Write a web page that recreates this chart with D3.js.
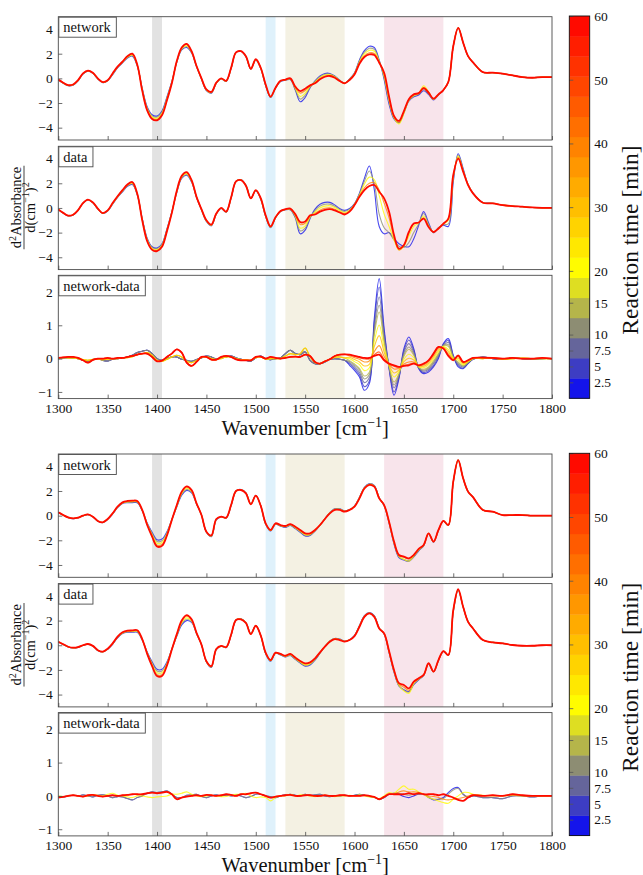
<!DOCTYPE html>
<html><head><meta charset="utf-8">
<script src="https://cdn.jsdelivr.net/npm/d3@7"></script>
<style>body{margin:0;background:#fff}svg{display:block}</style>
</head><body>
<svg id="c" width="643" height="875"></svg>
<script>
// ---------------- DATA ----------------
const wavenumber = [1300,1305,1310,1315,1320,1325,1330,1335,1340,1345,1350,1355,1360,1365,1370,1375,1380,
1385,1390,1395,1400,1405,1410,1415,1420,1425,1430,1435,1440,1445,1450,1455,1460,1465,
1470,1475,1480,1485,1490,1495,1500,1505,1510,1515,1520,1525,1530,1535,1540,1545,1550,
1555,1560,1565,1570,1575,1580,1585,1590,1595,1600,1605,1610,1615,1620,1625,1630,1635,
1640,1645,1650,1655,1660,1665,1670,1675,1680,1685,1690,1695,1700,1705,1710,1715,1720,
1730,1740,1750,1760,1770,1780,1790,1800];

const timesSpec = [2.5, 10, 20, 40, 60];
const timesDiff = [2.5, 5, 7.5, 10, 15, 20, 30, 40, 50, 60];
const xTicks = [1300,1350,1400,1450,1500,1550,1600,1650,1700,1750,1800];
const ySpecTicks = [-4,-2,0,2,4];
const yDiffTicks = [-1,0,1,2];
const cbTicks = [2.5,5,7.5,10,15,20,30,40,50,60];
const bandRanges = [[1395,1405],[1510,1520],[1530,1590],[1630,1690]];
const panelNames = ["network","data","network-data"];

// group 1, network
const net1_2p5 = [-0.15,-0.4,-0.6,-0.55,-0.2,0.35,0.58,0.4,-0.05,-0.35,-0.2,0.3,0.85,1.25,1.65,1.8,1.0,
-0.8,-2.3,-2.95,-3.05,-2.65,-1.5,-0.25,1.3,2.3,2.5,2.05,0.95,-0.05,-1.0,-1.2,-0.4,-0.05,
-0.25,0.8,2.1,2.2,1.75,0.75,1.5,0.8,-0.6,-1.55,-0.8,-0.25,-0.15,-0.1,-0.95,-1.9,-1.55,
-0.75,-0.2,0.2,0.4,0.4,0.2,-0.15,-0.38,-0.05,0.45,1.5,2.25,2.6,2.5,1.5,-0.1,-2.1,
-3.3,-3.6,-2.8,-1.85,-1.5,-1.35,-1.0,-1.3,-1.75,-1.35,-0.95,-0.3,2.6,4.1,2.9,1.8,1.3,
0.5,0.46,0.38,0.24,0.1,0.05,0.1,0.1];
const net1_10 = [-0.14,-0.39,-0.59,-0.54,-0.19,0.36,0.59,0.41,-0.04,-0.34,-0.19,0.33,0.88,1.28,1.69,1.85,1.03,
-0.85,-2.38,-3.04,-3.14,-2.74,-1.58,-0.29,1.33,2.35,2.58,2.09,0.96,-0.04,-0.98,-1.18,-0.39,-0.04,
-0.24,0.81,2.1,2.2,1.76,0.76,1.51,0.82,-0.58,-1.53,-0.79,-0.24,-0.14,-0.08,-0.88,-1.68,-1.37,
-0.71,-0.25,0.13,0.33,0.35,0.16,-0.17,-0.39,-0.07,0.42,1.42,2.12,2.44,2.35,1.44,0.04,-1.95,
-3.25,-3.6,-2.8,-1.82,-1.45,-1.3,-0.9,-1.26,-1.72,-1.34,-0.95,-0.3,2.6,4.1,2.9,1.8,1.3,
0.5,0.46,0.38,0.24,0.1,0.05,0.1,0.1];
const net1_20 = [-0.12,-0.38,-0.58,-0.52,-0.18,0.38,0.6,0.42,-0.02,-0.32,-0.18,0.35,0.9,1.3,1.72,1.9,1.05,
-0.9,-2.45,-3.13,-3.23,-2.83,-1.65,-0.33,1.35,2.4,2.65,2.13,0.98,-0.03,-0.95,-1.15,-0.38,-0.03,
-0.22,0.82,2.1,2.2,1.78,0.77,1.52,0.83,-0.55,-1.51,-0.78,-0.22,-0.12,-0.05,-0.81,-1.47,-1.2,
-0.66,-0.3,0.06,0.27,0.3,0.13,-0.19,-0.39,-0.09,0.39,1.35,1.99,2.27,2.2,1.39,0.18,-1.79,
-3.2,-3.7,-2.85,-1.8,-1.4,-1.22,-0.6,-1.1,-1.7,-1.32,-0.95,-0.3,2.6,4.1,2.9,1.8,1.3,
0.5,0.46,0.38,0.24,0.1,0.05,0.1,0.1];
const net1_40 = [-0.11,-0.36,-0.56,-0.51,-0.16,0.39,0.61,0.44,-0.01,-0.31,-0.16,0.38,0.93,1.33,1.77,1.96,1.08,
-0.96,-2.54,-3.23,-3.33,-2.93,-1.74,-0.37,1.38,2.46,2.74,2.17,0.99,-0.01,-0.92,-1.12,-0.36,-0.01,
-0.21,0.84,2.1,2.2,1.79,0.77,1.54,0.85,-0.52,-1.49,-0.77,-0.21,-0.11,-0.02,-0.73,-1.2,-0.98,
-0.61,-0.36,-0.02,0.18,0.23,0.08,-0.21,-0.4,-0.11,0.35,1.25,1.83,2.07,2.01,1.32,0.35,-1.6,
-3.12,-3.55,-2.72,-1.74,-1.33,-1.2,-0.72,-1.12,-1.67,-1.31,-0.95,-0.3,2.6,4.1,2.9,1.8,1.3,
0.5,0.46,0.38,0.24,0.1,0.05,0.1,0.1];
const net1_60 = [-0.1,-0.35,-0.55,-0.5,-0.15,0.4,0.62,0.45,0.0,-0.3,-0.15,0.4,0.95,1.35,1.8,2.0,1.1,
-1.0,-2.6,-3.3,-3.4,-3.0,-1.8,-0.4,1.4,2.5,2.8,2.2,1.0,0.0,-0.9,-1.1,-0.35,0.0,
-0.2,0.85,2.1,2.2,1.8,0.78,1.55,0.86,-0.5,-1.48,-0.76,-0.2,-0.1,0.0,-0.67,-1.03,-0.84,
-0.57,-0.4,-0.08,0.13,0.19,0.05,-0.22,-0.4,-0.13,0.32,1.19,1.73,1.94,1.89,1.27,0.46,-1.48,
-3.05,-3.45,-2.65,-1.7,-1.3,-1.2,-0.8,-1.16,-1.65,-1.3,-0.95,-0.3,2.6,4.1,2.9,1.8,1.3,
0.5,0.46,0.38,0.24,0.1,0.05,0.1,0.1];

// group 1, data
const dat1_2p5 = [-0.15,-0.42,-0.65,-0.58,-0.2,0.38,0.65,0.42,-0.08,-0.45,-0.25,0.3,0.85,1.3,1.75,1.9,1.05,
-0.85,-2.45,-3.15,-3.25,-2.9,-1.7,-0.3,1.25,2.4,2.65,2.1,0.85,-0.15,-1.1,-1.45,-0.5,-0.05,
-0.35,0.8,2.15,2.3,1.85,0.8,1.4,0.7,-0.7,-1.6,-0.8,-0.3,-0.15,-0.15,-0.8,-2.1,-1.8,
-0.85,-0.1,0.3,0.45,0.45,0.25,-0.05,-0.2,-0.05,0.35,1.2,2.4,3.4,1.5,-1.5,-2.1,-2.0,
-2.5,-2.9,-3.1,-3.15,-2.5,-1.4,-0.3,-1.2,-2.0,-1.6,-1.4,-1.5,2.1,4.4,3.2,1.9,1.2,
0.45,0.38,0.24,0.15,0.1,0.04,0.01,0.0];
const dat1_10 = [-0.14,-0.42,-0.64,-0.57,-0.2,0.39,0.66,0.43,-0.07,-0.44,-0.24,0.33,0.88,1.34,1.79,1.95,1.08,
-0.89,-2.51,-3.21,-3.31,-2.96,-1.75,-0.33,1.29,2.45,2.71,2.14,0.86,-0.14,-1.08,-1.43,-0.49,-0.04,
-0.34,0.81,2.15,2.29,1.84,0.8,1.41,0.73,-0.68,-1.58,-0.79,-0.29,-0.14,-0.13,-0.73,-1.86,-1.63,
-0.79,-0.21,0.15,0.3,0.31,0.14,-0.13,-0.28,-0.11,0.32,1.13,2.16,3.0,2.0,-0.5,-1.6,-2.0,
-2.6,-3.1,-3.2,-2.8,-2.0,-1.3,-0.45,-1.3,-2.0,-1.62,-1.35,-1.3,2.3,4.3,3.1,1.9,1.2,
0.45,0.38,0.24,0.15,0.1,0.04,0.01,0.0];
const dat1_20 = [-0.13,-0.41,-0.63,-0.56,-0.19,0.39,0.67,0.44,-0.06,-0.43,-0.22,0.35,0.9,1.38,1.83,2.0,1.1,
-0.93,-2.58,-3.28,-3.38,-3.03,-1.8,-0.35,1.33,2.5,2.78,2.18,0.88,-0.13,-1.05,-1.4,-0.48,-0.03,
-0.33,0.83,2.15,2.28,1.83,0.79,1.43,0.75,-0.65,-1.55,-0.78,-0.28,-0.13,-0.1,-0.65,-1.63,-1.45,
-0.73,-0.32,0.0,0.15,0.18,0.03,-0.21,-0.37,-0.18,0.29,1.05,1.93,2.5,2.3,1.0,-0.5,-1.5,
-2.6,-3.4,-3.1,-2.3,-1.5,-1.2,-0.65,-1.45,-1.95,-1.65,-1.3,-1.0,2.5,4.2,3.05,1.88,1.19,
0.42,0.37,0.23,0.15,0.1,0.04,0.01,0.0];
const dat1_40 = [-0.12,-0.4,-0.62,-0.55,-0.18,0.4,0.67,0.44,-0.05,-0.42,-0.21,0.38,0.93,1.42,1.87,2.06,1.13,
-0.97,-2.65,-3.35,-3.45,-3.1,-1.86,-0.38,1.37,2.56,2.85,2.22,0.89,-0.11,-1.02,-1.37,-0.46,-0.01,
-0.31,0.84,2.15,2.26,1.81,0.78,1.44,0.78,-0.62,-1.52,-0.76,-0.26,-0.11,-0.07,-0.56,-1.34,-1.24,
-0.65,-0.44,-0.18,-0.03,0.01,-0.11,-0.31,-0.46,-0.25,0.25,0.96,1.64,2.0,2.05,1.45,0.4,-0.8,
-2.4,-3.4,-3.05,-2.05,-1.3,-1.18,-0.8,-1.5,-1.95,-1.67,-1.27,-0.9,2.6,4.1,3.0,1.87,1.18,
0.42,0.37,0.23,0.15,0.1,0.04,0.01,0.0];
const dat1_60 = [-0.12,-0.4,-0.62,-0.55,-0.18,0.4,0.68,0.45,-0.05,-0.42,-0.2,0.4,0.95,1.45,1.9,2.1,1.15,
-1.0,-2.7,-3.4,-3.5,-3.15,-1.9,-0.4,1.4,2.6,2.9,2.25,0.9,-0.1,-1.0,-1.35,-0.45,0.0,
-0.3,0.85,2.15,2.25,1.8,0.78,1.45,0.8,-0.6,-1.5,-0.75,-0.25,-0.1,-0.05,-0.5,-1.15,-1.1,
-0.6,-0.53,-0.3,-0.15,-0.1,-0.2,-0.37,-0.53,-0.3,0.23,0.9,1.45,1.78,1.86,1.32,0.78,-0.3,
-2.2,-3.3,-3.0,-1.95,-1.26,-1.18,-0.86,-1.54,-1.95,-1.67,-1.27,-0.86,2.68,4.0,2.95,1.86,1.18,
0.42,0.37,0.23,0.15,0.1,0.04,0.01,0.0];

// group 1, network-data: shared stretches 1300-1590, per-time stretch 1595-1720, tails 1730-1800
const dif1Low_early = [0.0,0.02,0.03,0.02,0.0,-0.05,-0.08,-0.03,0.0,-0.05,-0.07,-0.02,0.0,0.02,0.05,0.1,0.18,
0.22,0.25,0.15,0.0,-0.05,0.0,0.05,0.05,-0.02,-0.05,-0.08,-0.03,0.02,0.08,0.05,-0.02,0.02,
0.05,0.08,0.02,-0.02,-0.05,-0.08,0.02,0.08,0.0,-0.03,0.0,0.02,0.15,0.25,0.15,0.12,0.2,
-0.05,-0.15,-0.15,-0.1,-0.02,0.0,-0.02,-0.05];
const dif1Low_mid = [0.01,0.03,0.02,0.02,0.0,-0.03,-0.05,-0.02,-0.02,-0.03,-0.02,0.0,0.0,0.02,0.03,0.06,0.12,
0.15,0.18,0.1,-0.05,-0.08,-0.02,0.05,0.1,0.05,-0.08,-0.12,-0.06,0.03,0.06,0.0,-0.03,0.0,
0.05,0.05,0.0,-0.03,-0.03,-0.05,0.03,0.05,-0.02,0.0,0.0,0.0,0.08,0.15,0.12,0.15,0.32,
0.05,-0.12,-0.15,-0.08,-0.02,0.04,0.05,0.02];
const dif1Low_late = [0.02,0.04,0.05,0.05,0.02,-0.05,-0.12,-0.04,0.0,0.0,0.02,0.0,0.02,0.02,0.05,0.08,0.12,
0.15,0.15,0.05,-0.08,-0.06,0.05,0.15,0.28,0.18,-0.12,-0.22,-0.1,0.05,0.05,-0.03,-0.03,0.05,
0.08,0.05,-0.02,-0.05,-0.05,-0.05,0.05,0.06,0.0,0.05,0.02,0.0,0.02,0.05,0.06,0.05,0.12,
0.08,-0.1,-0.15,-0.08,-0.02,0.08,0.12,0.13];
const dif1Tail_early = [0.05,0.0,-0.02,0.02,0.0,-0.02,0.0,0.0];
const dif1Tail_mid = [0.0,0.02,-0.02,0.0,0.02,0.0,0.0,0.0];
const dif1Tail_late = [0.03,0.02,0.0,0.02,0.0,0.0,0.02,0.0];
const dif1Amide_2p5 = [-0.2,-0.35,-0.55,-0.95,-0.75,1.2,2.4,0.9,-0.3,-1.1,-0.6,0.3,0.65,0.3,-0.3,-0.45,-0.4,-0.25,0.0,0.45,0.6,0.1,-0.25,-0.3,-0.15,-0.02];
const dif1Amide_5 = [-0.16,-0.3,-0.48,-0.84,-0.67,1.08,2.15,0.8,-0.28,-1.0,-0.56,0.24,0.56,0.25,-0.29,-0.42,-0.36,-0.21,0.04,0.43,0.54,0.08,-0.21,-0.28,-0.14,-0.02];
const dif1Amide_7p5 = [-0.12,-0.25,-0.41,-0.72,-0.57,0.93,1.85,0.67,-0.26,-0.88,-0.52,0.18,0.45,0.19,-0.28,-0.38,-0.32,-0.15,0.08,0.41,0.48,0.06,-0.17,-0.25,-0.13,-0.01];
const dif1Amide_10 = [-0.09,-0.2,-0.34,-0.61,-0.48,0.81,1.6,0.57,-0.25,-0.79,-0.48,0.12,0.35,0.14,-0.27,-0.35,-0.28,-0.11,0.12,0.4,0.42,0.05,-0.13,-0.23,-0.12,-0.01];
const dif1Amide_15 = [-0.06,-0.16,-0.29,-0.52,-0.41,0.71,1.4,0.48,-0.23,-0.7,-0.45,0.07,0.28,0.1,-0.26,-0.32,-0.25,-0.07,0.15,0.38,0.37,0.03,-0.1,-0.21,-0.11,0.0];
const dif1Amide_20 = [0.0,-0.09,-0.18,-0.36,-0.28,0.52,1.01,0.32,-0.21,-0.55,-0.39,-0.02,0.13,0.03,-0.24,-0.27,-0.19,-0.01,0.21,0.36,0.28,0.01,-0.04,-0.18,-0.09,0.0];
const dif1Amide_30 = [0.04,-0.03,-0.1,-0.22,-0.17,0.36,0.69,0.19,-0.19,-0.43,-0.34,-0.09,0.01,-0.04,-0.23,-0.23,-0.14,0.05,0.26,0.34,0.21,-0.01,0.01,-0.15,-0.08,0.01];
const dif1Amide_40 = [0.08,0.03,-0.02,-0.1,-0.07,0.21,0.39,0.06,-0.17,-0.31,-0.29,-0.16,-0.1,-0.1,-0.21,-0.19,-0.09,0.1,0.31,0.32,0.14,-0.03,0.06,-0.12,-0.06,0.02];
const dif1Amide_50 = [0.11,0.07,0.03,-0.01,-0.01,0.12,0.2,-0.02,-0.16,-0.23,-0.26,-0.2,-0.17,-0.13,-0.2,-0.16,-0.06,0.14,0.34,0.31,0.1,-0.04,0.09,-0.11,-0.05,0.02];
const dif1Amide_60 = [0.12,0.08,0.05,0.02,0.02,0.08,0.12,-0.05,-0.15,-0.2,-0.25,-0.22,-0.2,-0.15,-0.2,-0.15,-0.05,0.15,0.35,0.3,0.08,-0.05,0.1,-0.1,-0.05,0.02];

// group 2, network
const net2_2p5 = [0.25,0.03,-0.16,-0.24,-0.18,-0.02,0.08,-0.1,-0.45,-0.56,-0.3,0.12,0.65,0.98,1.05,1.06,1.05,
0.4,-0.6,-1.35,-1.95,-1.9,-1.3,-0.3,0.7,1.65,2.05,1.85,0.95,0.05,-1.35,-1.7,-0.35,-0.1,
-0.2,0.8,2.0,2.12,1.85,0.95,1.65,0.8,-0.7,-1.25,-0.7,-0.85,-0.95,-0.8,-1.05,-1.35,-1.65,
-1.6,-1.25,-0.8,-0.25,0.25,0.55,0.55,0.4,0.5,0.8,1.5,2.3,2.6,2.45,1.45,0.8,-0.6,
-2.3,-3.4,-3.6,-3.7,-3.35,-2.85,-2.45,-1.45,-2.15,-1.2,-0.45,-0.78,2.7,4.5,3.03,1.95,1.5,
0.46,0.32,0.05,0.05,0.05,0.0,0.0,0.0];
const net2_10 = [0.25,0.04,-0.16,-0.24,-0.18,-0.02,0.08,-0.1,-0.45,-0.56,-0.29,0.14,0.67,1.01,1.09,1.1,1.09,
0.42,-0.64,-1.44,-2.09,-2.04,-1.38,-0.31,0.74,1.73,2.13,1.91,0.96,0.05,-1.34,-1.68,-0.33,-0.1,
-0.19,0.82,2.0,2.11,1.84,0.94,1.64,0.8,-0.68,-1.23,-0.68,-0.83,-0.92,-0.77,-1.01,-1.3,-1.6,
-1.56,-1.23,-0.79,-0.26,0.24,0.53,0.53,0.38,0.49,0.78,1.48,2.28,2.57,2.43,1.44,0.82,-0.57,
-2.25,-3.35,-3.55,-3.65,-3.3,-2.81,-2.43,-1.45,-2.14,-1.19,-0.45,-0.78,2.72,4.5,3.03,1.95,1.5,
0.46,0.32,0.05,0.05,0.05,0.0,0.0,0.0];
const net2_20 = [0.26,0.04,-0.15,-0.23,-0.17,-0.01,0.09,-0.09,-0.44,-0.55,-0.28,0.16,0.69,1.03,1.12,1.14,1.12,
0.43,-0.68,-1.53,-2.23,-2.18,-1.46,-0.33,0.78,1.8,2.22,1.97,0.98,0.05,-1.33,-1.65,-0.31,-0.09,
-0.18,0.83,2.0,2.1,1.83,0.94,1.64,0.81,-0.66,-1.21,-0.66,-0.81,-0.9,-0.74,-0.98,-1.26,-1.54,
-1.52,-1.21,-0.78,-0.26,0.22,0.51,0.51,0.36,0.48,0.77,1.45,2.25,2.55,2.4,1.43,0.83,-0.55,
-2.2,-3.3,-3.55,-3.7,-3.3,-2.78,-2.42,-1.44,-2.12,-1.18,-0.44,-0.77,2.73,4.5,3.03,1.95,1.5,
0.46,0.32,0.05,0.05,0.05,0.0,0.0,0.0];
const net2_40 = [0.27,0.05,-0.14,-0.22,-0.16,0.0,0.1,-0.08,-0.43,-0.54,-0.28,0.18,0.71,1.06,1.16,1.19,1.16,
0.45,-0.73,-1.63,-2.39,-2.34,-1.56,-0.34,0.83,1.89,2.31,2.03,0.99,0.05,-1.31,-1.62,-0.29,-0.08,
-0.17,0.85,2.0,2.09,1.82,0.93,1.63,0.81,-0.64,-1.18,-0.64,-0.78,-0.86,-0.7,-0.93,-1.2,-1.47,
-1.46,-1.18,-0.77,-0.27,0.2,0.48,0.48,0.34,0.47,0.74,1.42,2.22,2.51,2.37,1.41,0.85,-0.51,
-2.14,-3.23,-3.38,-3.52,-3.22,-2.73,-2.39,-1.43,-2.11,-1.17,-0.43,-0.76,2.75,4.5,3.03,1.95,1.5,
0.46,0.32,0.05,0.05,0.05,0.0,0.0,0.0];
const net2_60 = [0.27,0.05,-0.14,-0.22,-0.16,0.0,0.1,-0.08,-0.43,-0.54,-0.27,0.19,0.73,1.08,1.19,1.22,1.19,
0.46,-0.76,-1.7,-2.5,-2.45,-1.62,-0.35,0.86,1.95,2.38,2.08,1.0,0.05,-1.3,-1.6,-0.27,-0.08,
-0.16,0.86,2.0,2.08,1.81,0.92,1.62,0.81,-0.62,-1.16,-0.62,-0.76,-0.84,-0.68,-0.9,-1.16,-1.43,
-1.43,-1.16,-0.76,-0.27,0.19,0.46,0.46,0.32,0.46,0.73,1.4,2.2,2.49,2.35,1.4,0.86,-0.49,
-2.1,-3.19,-3.32,-3.46,-3.19,-2.7,-2.38,-1.43,-2.1,-1.16,-0.43,-0.76,2.76,4.5,3.03,1.95,1.5,
0.46,0.32,0.05,0.05,0.05,0.0,0.0,0.0];

// group 2, data
const dat2_2p5 = [0.27,0.06,-0.14,-0.22,-0.17,-0.02,0.08,-0.07,-0.42,-0.55,-0.32,0.08,0.6,0.95,1.05,1.05,1.05,
0.42,-0.55,-1.35,-1.95,-1.95,-1.35,-0.3,0.72,1.65,2.0,1.85,0.95,0.05,-1.35,-1.8,-0.35,-0.08,
-0.2,0.8,2.05,2.15,1.85,0.95,1.6,0.78,-0.7,-1.3,-0.65,-0.78,-0.95,-0.82,-1.15,-1.45,-1.7,
-1.6,-1.2,-0.65,-0.1,0.35,0.55,0.5,0.35,0.45,0.8,1.6,2.4,2.65,2.4,1.4,0.9,-0.6,
-2.2,-3.3,-3.6,-3.75,-3.2,-2.8,-2.45,-1.5,-2.15,-1.25,-0.5,-0.8,2.7,4.45,3.1,1.9,1.36,
0.42,0.23,0.15,0.02,-0.04,-0.04,0.0,0.0];
const dat2_10 = [0.27,0.07,-0.14,-0.22,-0.17,-0.02,0.08,-0.07,-0.42,-0.54,-0.31,0.1,0.63,0.98,1.08,1.09,1.09,
0.44,-0.59,-1.44,-2.09,-2.09,-1.43,-0.31,0.77,1.74,2.11,1.91,0.96,0.05,-1.34,-1.78,-0.34,-0.07,
-0.19,0.81,2.05,2.14,1.84,0.94,1.6,0.79,-0.68,-1.28,-0.64,-0.76,-0.93,-0.79,-1.11,-1.41,-1.64,
-1.55,-1.17,-0.63,-0.1,0.34,0.54,0.48,0.34,0.44,0.79,1.58,2.38,2.63,2.38,1.39,0.92,-0.57,
-2.15,-3.3,-3.65,-3.8,-3.15,-2.77,-2.44,-1.49,-2.15,-1.24,-0.5,-0.8,2.74,4.47,3.1,1.9,1.36,
0.42,0.23,0.15,0.02,-0.04,-0.04,0.0,0.0];
const dat2_20 = [0.28,0.07,-0.13,-0.21,-0.16,-0.01,0.09,-0.06,-0.41,-0.54,-0.3,0.12,0.65,1.0,1.12,1.13,1.14,
0.46,-0.63,-1.53,-2.23,-2.23,-1.5,-0.33,0.81,1.83,2.22,1.98,0.98,0.05,-1.33,-1.75,-0.33,-0.07,
-0.18,0.83,2.05,2.13,1.83,0.93,1.59,0.79,-0.65,-1.25,-0.63,-0.74,-0.9,-0.76,-1.08,-1.37,-1.59,
-1.5,-1.13,-0.62,-0.11,0.32,0.53,0.46,0.32,0.44,0.77,1.55,2.35,2.62,2.35,1.38,0.93,-0.54,
-2.1,-3.25,-3.7,-3.9,-3.1,-2.74,-2.43,-1.48,-2.14,-1.22,-0.49,-0.8,2.77,4.5,3.11,1.9,1.36,
0.42,0.23,0.15,0.02,-0.04,-0.04,0.0,0.0];
const dat2_40 = [0.29,0.08,-0.12,-0.2,-0.15,0.0,0.1,-0.05,-0.4,-0.53,-0.29,0.14,0.68,1.03,1.15,1.17,1.19,
0.48,-0.67,-1.63,-2.39,-2.39,-1.59,-0.34,0.86,1.93,2.35,2.05,0.99,0.05,-1.31,-1.72,-0.31,-0.06,
-0.16,0.84,2.05,2.11,1.81,0.91,1.58,0.8,-0.62,-1.22,-0.61,-0.72,-0.87,-0.72,-1.03,-1.31,-1.52,
-1.43,-1.09,-0.59,-0.12,0.3,0.51,0.44,0.3,0.43,0.75,1.52,2.32,2.59,2.32,1.37,0.95,-0.5,
-2.05,-3.15,-3.4,-3.65,-3.0,-2.7,-2.41,-1.47,-2.14,-1.21,-0.48,-0.79,2.81,4.52,3.12,1.9,1.36,
0.42,0.23,0.15,0.02,-0.04,-0.04,0.0,0.0];
const dat2_60 = [0.29,0.08,-0.12,-0.2,-0.15,0.0,0.1,-0.05,-0.4,-0.52,-0.28,0.15,0.7,1.05,1.18,1.2,1.22,
0.5,-0.7,-1.7,-2.5,-2.5,-1.65,-0.35,0.9,2.0,2.44,2.1,1.0,0.05,-1.3,-1.7,-0.3,-0.05,
-0.15,0.85,2.05,2.1,1.8,0.9,1.58,0.8,-0.6,-1.2,-0.6,-0.7,-0.85,-0.7,-1.0,-1.28,-1.47,
-1.39,-1.06,-0.58,-0.12,0.29,0.5,0.42,0.29,0.42,0.74,1.5,2.3,2.58,2.3,1.36,0.96,-0.47,
-2.0,-3.08,-3.22,-3.5,-2.95,-2.68,-2.4,-1.46,-2.14,-1.2,-0.47,-0.79,2.84,4.54,3.12,1.9,1.36,
0.42,0.23,0.15,0.02,-0.04,-0.04,0.0,0.0];

// group 2, network-data: shared stretches 1300-1635, per-time stretch 1640-1720, tails
const dif2Low_early = [-0.03,-0.03,0.0,0.02,0.0,0.03,0.0,-0.03,0.02,0.03,0.0,-0.05,-0.02,-0.03,-0.08,-0.12,-0.05,
0.0,0.08,0.12,0.1,0.12,0.15,0.05,-0.05,-0.05,0.02,0.03,0.05,-0.02,-0.05,0.0,0.03,0.0,
0.02,0.0,0.03,0.0,-0.05,-0.02,0.05,0.05,0.0,-0.02,-0.05,0.0,0.03,0.05,0.02,0.0,0.05,
0.02,0.03,0.05,0.0,-0.02,0.0,0.0,0.02,0.0,0.02,0.05,0.02,-0.02,-0.05,-0.1,-0.05,0.05];
const dif2Low_mid = [0.0,-0.02,0.0,0.02,0.0,-0.02,0.0,0.03,0.02,0.0,0.05,0.08,0.02,0.0,-0.03,-0.05,0.0,
0.0,-0.03,-0.05,-0.03,-0.02,0.0,0.05,0.05,0.08,0.12,0.05,0.0,-0.02,0.0,0.02,0.0,-0.02,
-0.02,0.02,0.05,0.05,0.08,0.0,-0.05,-0.03,-0.05,-0.15,-0.05,0.0,0.0,0.05,0.0,0.03,0.02,
0.0,-0.02,0.0,0.02,0.0,-0.02,0.0,0.0,0.02,0.0,0.03,0.0,-0.03,-0.05,-0.08,0.0,0.1];
const dif2Low_late = [-0.05,-0.03,0.0,0.02,0.0,-0.02,0.02,0.03,0.0,-0.02,0.0,0.02,0.0,0.02,0.03,0.05,0.05,
0.05,0.08,0.1,0.08,0.1,0.12,0.05,-0.1,-0.05,-0.02,0.0,0.02,0.0,0.03,0.02,0.0,0.02,
0.05,0.03,0.0,0.05,0.05,0.08,0.1,0.05,0.0,-0.05,-0.02,0.0,0.02,0.03,0.0,0.0,0.02,
0.02,0.0,0.0,0.02,0.0,0.0,0.02,0.02,0.0,0.0,0.0,0.02,0.0,-0.03,-0.1,-0.03,0.05];
const dif2Tail_early = [-0.05,-0.05,-0.08,0.0,0.0,-0.03,0.0,0.0];
const dif2Tail_mid = [0.02,0.0,0.0,0.02,0.0,0.0,0.0,0.0];
const dif2Tail_late = [0.0,0.02,0.0,0.05,0.02,0.0,0.0,0.0];
const dif2Amide_2p5 = [0.08,0.05,-0.02,-0.05,0.0,0.05,0.05,-0.05,-0.12,-0.1,-0.05,0.1,0.22,0.25,0.05,-0.05,0.0];
const dif2Amide_10 = [0.08,0.08,0.05,0.02,0.05,0.05,0.05,-0.03,-0.1,-0.1,-0.08,0.05,0.18,0.22,0.05,-0.03,0.0];
const dif2Amide_20 = [0.08,0.2,0.3,0.2,0.2,0.12,0.05,-0.05,-0.1,-0.15,-0.2,-0.22,-0.1,0.0,0.1,0.1,0.05];
const dif2Amide_40 = [0.05,0.12,0.15,0.12,0.12,0.1,0.05,0.0,-0.02,-0.05,-0.1,-0.12,-0.1,-0.08,-0.05,0.0,0.03];
const dif2Amide_60 = [0.05,0.05,0.05,0.08,0.05,0.08,0.05,0.05,0.05,0.02,0.05,0.0,-0.05,-0.12,-0.15,-0.05,0.02];

// ---------------- SERIES TABLES ----------------
const dif1 = [
  [2.5, [...dif1Low_early, ...dif1Amide_2p5, ...dif1Tail_early]],
  [5,   [...dif1Low_early, ...dif1Amide_5, ...dif1Tail_early]],
  [7.5, [...dif1Low_early, ...dif1Amide_7p5, ...dif1Tail_early]],
  [10,  [...dif1Low_early, ...dif1Amide_10, ...dif1Tail_early]],
  [15,  [...dif1Low_mid, ...dif1Amide_15, ...dif1Tail_mid]],
  [20,  [...dif1Low_mid, ...dif1Amide_20, ...dif1Tail_mid]],
  [30,  [...dif1Low_mid, ...dif1Amide_30, ...dif1Tail_mid]],
  [40,  [...dif1Low_late, ...dif1Amide_40, ...dif1Tail_late]],
  [50,  [...dif1Low_late, ...dif1Amide_50, ...dif1Tail_late]],
  [60,  [...dif1Low_late, ...dif1Amide_60, ...dif1Tail_late]]
];
const dif2 = [
  [2.5, [...dif2Low_early, ...dif2Amide_2p5, ...dif2Tail_early]],
  [10,  [...dif2Low_early, ...dif2Amide_10, ...dif2Tail_early]],
  [20,  [...dif2Low_mid, ...dif2Amide_20, ...dif2Tail_mid]],
  [40,  [...dif2Low_late, ...dif2Amide_40, ...dif2Tail_late]],
  [60,  [...dif2Low_late, ...dif2Amide_60, ...dif2Tail_late]]
];
const spec = (a) => timesSpec.map((t, i) => [t, a[i]]);

// ---------------- LAYOUT / STYLE ----------------
const FONT = '"Liberation Serif","Times New Roman",serif';
const X0 = 58.3, X1 = 552;
const PH = 123.3;
const groupOffset = [0, 437.3];
const panelTops = [16.7, 146.3, 275.3];
const bandColors = ['#e2e2e2', '#dff1fb', '#f4f1e3', '#f8e4eb'];
const AX = '#4a4a4a';

const svg = d3.select('#c');
const defs = svg.append('defs');
const x = d3.scaleLinear().domain([1300, 1800]).range([X0, X1]);

const cmap = d3.scaleLinear().domain([0, 10, 20, 60])
  .range(['#0000ff', '#808080', '#ffff00', '#ff0000']).interpolate(d3.interpolateRgb);
const NSEG = 19;
const segIndex = t => Math.min(NSEG - 1, Math.floor(t / 60 * NSEG));
const segColor = t => cmap((segIndex(t) + 0.5) * 60 / NSEG);
const fmtNum = d => (d < 0 ? '\u2212' + Math.abs(d) : String(d));

const groups = [
  [spec([net1_2p5, net1_10, net1_20, net1_40, net1_60]),
   spec([dat1_2p5, dat1_10, dat1_20, dat1_40, dat1_60]), dif1],
  [spec([net2_2p5, net2_10, net2_20, net2_40, net2_60]),
   spec([dat2_2p5, dat2_10, dat2_20, dat2_40, dat2_60]), dif2]
];

let clipId = 0;
groups.forEach((gs, gi) => {
  const off = groupOffset[gi];
  gs.forEach((series, pi) => {
    const top = panelTops[pi] + off, bot = top + PH;
    const isDiff = pi === 2;
    const y = d3.scaleLinear().domain(isDiff ? [-1.2, 2.5] : [-5, 5]).range([bot, top]);
    const g = svg.append('g');
    bandRanges.forEach((b, i) => g.append('rect')
      .attr('x', x(b[0])).attr('y', top).attr('width', x(b[1]) - x(b[0])).attr('height', PH)
      .attr('fill', bandColors[i]));
    const cid = 'clip' + (clipId++);
    defs.append('clipPath').attr('id', cid).append('rect')
      .attr('x', X0).attr('y', top).attr('width', X1 - X0).attr('height', PH);
    const lg = g.append('g').attr('clip-path', `url(#${cid})`);
    const line = d3.line().x(d => x(d[0])).y(d => y(d[1])).curve(d3.curveCatmullRom.alpha(0.5));
    series.forEach(([t, vals]) => {
      const pts = wavenumber.map((w, i) => [w, vals[i]]).filter(d => d[1] !== undefined);
      lg.append('path').attr('d', line(pts)).attr('fill', 'none')
        .attr('stroke', segColor(t))
        .attr('stroke-width', t === 60 ? 1.8 : 1.1)
        .attr('stroke-opacity', t === 60 ? 1 : 0.78)
        .attr('stroke-linejoin', 'round');
    });
    // axes
    const ya = g.append('g').attr('transform', `translate(${X0},0)`)
      .call(d3.axisLeft(y).tickValues(isDiff ? yDiffTicks : ySpecTicks).tickSize(-4).tickPadding(5.6).tickFormat(fmtNum));
    const xa = g.append('g').attr('transform', `translate(0,${bot})`)
      .call(d3.axisBottom(x).tickValues(xTicks).tickSize(-4).tickPadding(4.9)
        .tickFormat(isDiff ? (d => String(d)) : () => ''));
    [ya, xa].forEach(a => {
      a.select('.domain').remove();
      a.selectAll('line').attr('stroke', AX).attr('stroke-width', 0.8);
      a.selectAll('text').attr('font-family', FONT).attr('font-size', 13.5).attr('fill', '#111');
    });
    // frame
    g.append('rect').attr('x', X0).attr('y', top).attr('width', X1 - X0).attr('height', PH)
      .attr('fill', 'none').attr('stroke', AX).attr('stroke-width', 0.9);
    // label box
    const box = g.append('rect').attr('x', X0 + 0.5).attr('y', top + 0.5).attr('height', 20)
      .attr('fill', '#fff').attr('stroke', AX).attr('stroke-width', 0.9);
    const lt = g.append('text').attr('x', X0 + 5).attr('y', top + 15.6)
      .attr('font-family', FONT).attr('font-size', 14.5).attr('fill', '#111').text(panelNames[pi]);
    box.attr('width', lt.node().getComputedTextLength() + 10);
    if (isDiff) {
      const t = g.append('text').attr('x', (X0 + X1) / 2).attr('y', bot + 36.5)
        .attr('text-anchor', 'middle').attr('font-family', FONT).attr('font-size', 20.5).attr('fill', '#111');
      t.append('tspan').text('Wavenumber [cm');
      t.append('tspan').attr('dy', -8).attr('font-size', 14).text('\u22121');
      t.append('tspan').attr('dy', 8).text(']');
    }
  });

  // y-axis fraction label
  const yc = 207.5 + off;
  const fl = svg.append('g').attr('transform', `translate(21,${yc}) rotate(-90)`)
    .attr('font-family', FONT).attr('font-size', 14.5).attr('fill', '#111');
  const num = fl.append('text').attr('text-anchor', 'middle');
  num.append('tspan').text('d');
  num.append('tspan').attr('dy', -5.5).attr('font-size', 10).text('2');
  num.append('tspan').attr('dy', 5.5).text('Absorbance');
  const den = fl.append('text').attr('text-anchor', 'middle').attr('y', 13.5);
  den.append('tspan').text('d(cm');
  den.append('tspan').attr('dy', -5.5).attr('font-size', 10).text('\u22121');
  den.append('tspan').attr('dy', 5.5).text(')');
  den.append('tspan').attr('dy', -5.5).attr('font-size', 10).text('2');
  const nw = num.node().getComputedTextLength();
  fl.append('line').attr('x1', -nw / 2 - 1).attr('x2', nw / 2 + 1).attr('y1', 3).attr('y2', 3)
    .attr('stroke', '#111').attr('stroke-width', 0.8);

  // colorbar
  const cbTop = 16 + off, cbBot = 398.3 + off, cbL = 569.3, cbR = 589.7;
  const cy = d3.scaleLinear().domain([0, 60]).range([cbBot, cbTop]);
  const cb = svg.append('g');
  d3.range(NSEG).forEach(i => {
    const v0 = i * 60 / NSEG, v1 = (i + 1) * 60 / NSEG;
    cb.append('rect').attr('x', cbL).attr('y', cy(v1)).attr('width', cbR - cbL)
      .attr('height', cy(v0) - cy(v1) + 0.4).attr('fill', cmap((v0 + v1) / 2));
  });
  const cl = cb.append('g').attr('transform', `translate(${cbL},0)`)
    .call(d3.axisLeft(cy).tickValues(cbTicks).tickSize(-4).tickFormat(''));
  const cr = cb.append('g').attr('transform', `translate(${cbR},0)`)
    .call(d3.axisRight(cy).tickValues(cbTicks).tickSize(0).tickPadding(4.5).tickFormat(d => String(d)));
  [cl, cr].forEach(a => {
    a.select('.domain').remove();
    a.selectAll('line').attr('stroke', '#555').attr('stroke-width', 0.8);
    a.selectAll('text').attr('font-family', FONT).attr('font-size', 13.5).attr('fill', '#111');
  });
  cb.append('rect').attr('x', cbL).attr('y', cbTop).attr('width', cbR - cbL).attr('height', cbBot - cbTop)
    .attr('fill', 'none').attr('stroke', '#111').attr('stroke-width', 0.9);
  svg.append('text').attr('transform', `translate(637.5,${240 + off}) rotate(-90)`)
    .attr('text-anchor', 'middle').attr('font-family', FONT).attr('font-size', 23.5).attr('fill', '#111')
    .text('Reaction time [min]');
});
</script>
</body></html>
